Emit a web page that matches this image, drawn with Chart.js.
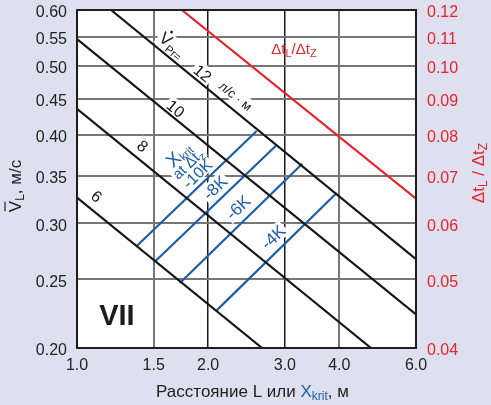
<!DOCTYPE html>
<html>
<head>
<meta charset="utf-8">
<script src="https://cdn.jsdelivr.net/npm/chart.js@4/dist/chart.umd.min.js"></script>
<style>
  html, body { margin: 0; padding: 0; background: #dfe0ef; }
  #wrap { width: 491px; height: 405px; }
</style>
</head>
<body>
<div id="wrap"><canvas id="c" width="491" height="405"></canvas></div>
<script>
// Axis ticks
const distTicks  = [1.0, 1.5, 2.0, 3.0, 4.0, 6.0];
const speedTicks = [0.20, 0.25, 0.30, 0.35, 0.40, 0.45, 0.50, 0.55, 0.60];
const ratioTicks = [0.04, 0.05, 0.06, 0.07, 0.08, 0.09, 0.10, 0.11, 0.12];

// Supply air flow lines V_Pr (l/s·m): start / end points
const flowNames = ['6', '8', '10', '12'];
const flowL = [[1.0, 2.66], [1.0, 4.73], [1.0, 6.0], [1.197, 6.0]];
const flowV = [[0.326, 0.20], [0.435, 0.20], [0.546, 0.223], [0.60, 0.267]];

// Temperature ratio line Δt_L / Δt_Z (right axis)
const ratioL = [1.74, 6.0];
const ratioR = [0.12, 0.065];

// Critical distance lines X_krit at Δt_z
const critNames = ['-10K', '-8K', '-6K', '-4K'];
const critL = [[1.375, 2.585], [1.51, 2.862], [1.723, 3.289], [2.092, 3.945]];
const critV = [[0.279, 0.405], [0.265, 0.386], [0.247, 0.364], [0.226, 0.331]];

// Label anchor positions (L, v)
const flowLabelL = [1.111, 1.418, 1.687, 1.946];
const flowLabelV = [0.328, 0.386, 0.436, 0.489];
const critLabelL = [1.798, 2.073, 2.342, 2.818];
const critLabelV = [0.3637, 0.337, 0.316, 0.287];

const FONT = "'Liberation Sans', Arial, Helvetica, sans-serif";
const BLACK = '#161616';
const RED = '#e8232b';
const BLUE = '#1a5daa';
const BG = '#dfe0ef';

const pts = (xs, ys) => xs.map((x, i) => ({ x: x, y: ys[i] }));

const datasets = [];
flowNames.forEach((n, i) => datasets.push({
  label: 'V' + n, data: pts(flowL[i], flowV[i]), yAxisID: 'y',
  borderColor: BLACK, borderWidth: 2.2, pointRadius: 0
}));
critNames.forEach((n, i) => datasets.push({
  label: 'X' + n, data: pts(critL[i], critV[i]), yAxisID: 'y',
  borderColor: BLUE, borderWidth: 2.2, pointRadius: 0
}));
datasets.push({
  label: 'ratio', data: pts(ratioL, ratioR), yAxisID: 'y2',
  borderColor: RED, borderWidth: 2.2, pointRadius: 0
});

// draws a sequence of text pieces centred at (cx, cy), rotated by angle
function drawRich(ctx, cx, cy, angle, parts, bg) {
  ctx.save();
  ctx.translate(cx, cy);
  ctx.rotate(angle);
  let w = 0;
  parts.forEach(p => { ctx.font = p.f; p.w = ctx.measureText(p.t).width; w += p.w; });
  if (bg) {
    ctx.fillStyle = '#fff';
    ctx.fillRect(-w / 2 - bg.px, -bg.h / 2, w + 2 * bg.px, bg.h);
  } else {
    ctx.textBaseline = 'alphabetic';
    let x = -w / 2;
    parts.forEach(p => {
      ctx.font = p.f; ctx.fillStyle = p.c;
      ctx.fillText(p.t, x, (p.dy || 0) + (p.base || 5));
      if (p.over) {
        ctx.strokeStyle = p.c; ctx.lineWidth = 1.2;
        ctx.beginPath(); ctx.moveTo(x + 1, p.over); ctx.lineTo(x + p.w - 1, p.over); ctx.stroke();
      }
      if (p.dot) {
        ctx.fillStyle = p.c;
        ctx.beginPath(); ctx.arc(x + p.w / 2, p.dot, 1.4, 0, Math.PI * 2); ctx.fill();
      }
      x += p.w;
    });
  }
  ctx.restore();
}

function lineAngle(chart, xs, ys, axis) {
  const sx = chart.scales.x, sy = chart.scales[axis || 'y'];
  const x0 = sx.getPixelForValue(xs[0]), x1 = sx.getPixelForValue(xs[1]);
  const y0 = sy.getPixelForValue(ys[0]), y1 = sy.getPixelForValue(ys[1]);
  return Math.atan2(y1 - y0, x1 - x0);
}

function labelSpecs(chart) {
  const sx = chart.scales.x, sy = chart.scales.y, sr = chart.scales.y2;
  const specs = [];
  const aFlow = lineAngle(chart, flowL[1], flowV[1]);
  const aCrit = lineAngle(chart, critL[1], critV[1]);
  const f = (s, w) => (w || '') + ' ' + s + 'px ' + FONT;

  flowNames.forEach((n, i) => specs.push({
    x: sx.getPixelForValue(flowLabelL[i]), y: sy.getPixelForValue(flowLabelV[i]), a: aFlow,
    parts: [{ t: n, f: f(16), c: BLACK, base: 6 }], bg: { px: 2, h: 16 }
  }));
  specs.push({
    x: sx.getPixelForValue(2.317), y: sy.getPixelForValue(0.454), a: aFlow,
    parts: [{ t: 'л/с · м', f: f(13), c: BLACK }], bg: { px: 2, h: 14 }
  });
  specs.push({
    x: sx.getPixelForValue(1.652), y: sy.getPixelForValue(0.535), a: aFlow,
    parts: [{ t: 'V', f: f(17), c: BLACK, dot: -10, base: 5 }, { t: 'Pr=', f: f(11), c: BLACK, dy: 4 }],
    bg: { px: 2, h: 18 }
  });

  // stacked X_krit block
  const cx = sx.getPixelForValue(critLabelL[0]), cy = sy.getPixelForValue(critLabelV[0]);
  const nx = -Math.sin(aCrit), ny = Math.cos(aCrit);
  const gap = 13;
  specs.push({
    x: cx - nx * gap, y: cy - ny * gap, a: aCrit,
    parts: [{ t: 'X', f: f(19), c: BLUE, base: 6 }, { t: 'krit', f: f(11), c: BLUE, dy: 2, base: 6 }],
    bg: { px: 2, h: 17 }
  });
  specs.push({
    x: cx, y: cy, a: aCrit,
    parts: [{ t: 'at Δt', f: f(15), c: BLUE }, { t: 'z', f: f(11), c: BLUE, dy: 3 }],
    bg: { px: 2, h: 15 }
  });
  specs.push({
    x: cx + nx * gap, y: cy + ny * gap, a: aCrit,
    parts: [{ t: critNames[0], f: f(16), c: BLUE, base: 6 }], bg: { px: 2, h: 15 }
  });
  for (let i = 1; i < critNames.length; i++) {
    specs.push({
      x: sx.getPixelForValue(critLabelL[i]), y: sy.getPixelForValue(critLabelV[i]), a: aCrit,
      parts: [{ t: critNames[i], f: f(17), c: BLUE, base: 6 }], bg: { px: 2, h: 17 }
    });
  }
  specs.push({
    x: sx.getPixelForValue(3.148), y: sr.getPixelForValue(0.1057), a: 0,
    parts: [{ t: 'Δt', f: f(15), c: RED }, { t: 'L', f: f(11), c: RED, dy: 3 },
            { t: '/Δt', f: f(15), c: RED }, { t: 'Z', f: f(11), c: RED, dy: 3 }]
  });
  specs.push({
    x: sx.getPixelForValue(1.235), y: sy.getPixelForValue(0.2226), a: 0,
    parts: [{ t: 'VII', f: f(29, 'bold'), c: '#1c1c1c', base: 10 }]
  });
  return specs;
}

const decor = {
  id: 'decor',
  beforeDraw(chart) {
    const { ctx, chartArea: a } = chart;
    ctx.save();
    ctx.fillStyle = BG;
    ctx.fillRect(0, 0, chart.width, chart.height);
    ctx.fillStyle = '#ffffff';
    ctx.fillRect(a.left, a.top, a.right - a.left, a.bottom - a.top);
    ctx.restore();
  },
  beforeDatasetsDraw(chart) {
    labelSpecs(chart).forEach(s => { if (s.bg) drawRich(chart.ctx, s.x, s.y, s.a, s.parts, s.bg); });
  },
  afterDatasetsDraw(chart) {
    const { ctx, chartArea: a } = chart;
    labelSpecs(chart).forEach(s => drawRich(ctx, s.x, s.y, s.a, s.parts, null));
    ctx.save();
    ctx.strokeStyle = '#1e1e1e';
    ctx.lineWidth = 2;
    ctx.strokeRect(a.left, a.top, a.right - a.left, a.bottom - a.top);
    ctx.restore();
  },
  afterDraw(chart) {
    const ctx = chart.ctx;
    const a = chart.chartArea;
    const f = (s) => s + 'px ' + FONT;
    // bottom axis title
    drawRich(ctx, (a.left + a.right) / 2 + 6, 392, 0, [
      { t: 'Расстояние L или ', f: f(17), c: '#222' },
      { t: 'X', f: f(17), c: BLUE },
      { t: 'krit', f: f(12), c: BLUE, dy: 3 },
      { t: ', м', f: f(17), c: '#222' }
    ], null);
    // left axis title
    drawRich(ctx, 16, 186, -Math.PI / 2, [
      { t: 'V', f: f(17), c: '#222', over: -11 },
      { t: 'L', f: f(12), c: '#222', dy: 3 },
      { t: ', м/с', f: f(17), c: '#222' }
    ], null);
    // right axis title
    drawRich(ctx, 479, 173, -Math.PI / 2, [
      { t: 'Δt', f: f(17), c: RED },
      { t: 'L', f: f(12), c: RED, dy: 3 },
      { t: ' / Δt', f: f(17), c: RED },
      { t: 'Z', f: f(12), c: RED, dy: 3 }
    ], null);
  }
};

const setTicks = (vals) => (s) => { s.ticks = vals.map(v => ({ value: v })); };
const noPad = (s) => { s.paddingTop = 0; s.paddingBottom = 0; };

new Chart(document.getElementById('c'), {
  type: 'line',
  data: { datasets: datasets },
  plugins: [decor],
  options: {
    responsive: false,
    devicePixelRatio: 1,
    animation: false,
    layout: { padding: { top: 10, left: 0, right: 0, bottom: 0 } },
    plugins: { legend: { display: false }, tooltip: { enabled: false } },
    elements: { line: { tension: 0, borderCapStyle: 'butt' } },
    scales: {
      x: {
        type: 'logarithmic', min: 1.0, max: 6.0,
        afterBuildTicks: setTicks(distTicks),
        afterFit: (s) => { s.height = 57; s.paddingLeft = 0; s.paddingRight = 0; },
        border: { display: false },
        grid: {
          drawTicks: false,
          color: (c) => (c.tick && (c.tick.value === 2 || c.tick.value === 3)) ? '#1a1a1a' : '#777777',
          lineWidth: (c) => (c.tick && (c.tick.value === 2 || c.tick.value === 3)) ? 1.5 : 2
        },
        ticks: {
          autoSkip: false, maxRotation: 0, padding: 8,
          color: '#222', font: { family: FONT, size: 16 },
          callback: (v) => Number(v).toFixed(1)
        }
      },
      y: {
        type: 'logarithmic', position: 'left', min: 0.2, max: 0.6,
        afterBuildTicks: setTicks(speedTicks),
        afterFit: (s) => { s.width = 77; noPad(s); },
        border: { display: false },
        grid: { drawTicks: false, color: '#777777', lineWidth: 2 },
        ticks: {
          autoSkip: false, padding: 10, labelOffset: 3,
          color: '#222', font: { family: FONT, size: 16 },
          callback: (v) => Number(v).toFixed(2)
        }
      },
      y2: {
        type: 'logarithmic', position: 'right', min: 0.04, max: 0.12,
        afterBuildTicks: setTicks(ratioTicks),
        afterFit: (s) => { s.width = 75; noPad(s); },
        border: { display: false },
        grid: { display: false, drawTicks: false },
        ticks: {
          autoSkip: false, padding: 11, labelOffset: 3,
          color: RED, font: { family: FONT, size: 16 },
          callback: (v) => Number(v).toFixed(2)
        }
      }
    }
  }
});
</script>
</body>
</html>
